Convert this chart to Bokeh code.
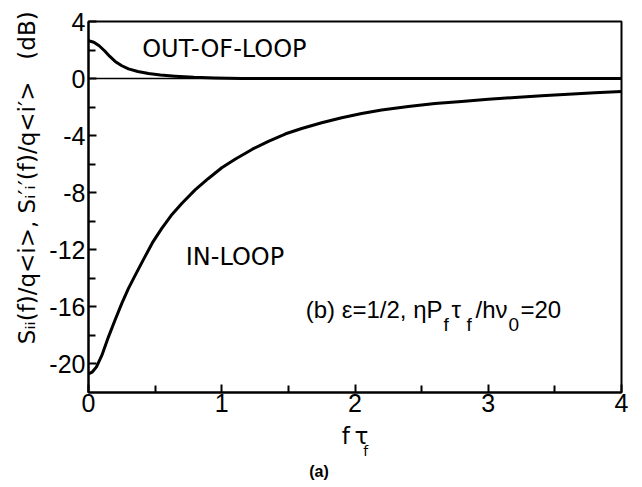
import math
from bokeh.plotting import figure
from bokeh.models import Range1d, FixedTicker, Span, Label, LinearAxis
from bokeh.embed import file_html
from bokeh.resources import INLINE

# ---- data ----
x_in = [0.00, 0.03, 0.06, 0.10, 0.15, 0.20, 0.25, 0.30, 0.355, 0.42, 0.48, 0.55,
        0.62, 0.70, 0.80, 0.90, 1.00, 1.10, 1.23, 1.35, 1.48, 1.60, 1.75, 1.90,
        2.05, 2.20, 2.40, 2.60, 2.80, 3.00, 3.20, 3.40, 3.60, 3.80, 4.00]
y_in = [-20.7, -20.55, -20.2, -19.4, -18.1, -16.9, -15.75, -14.7, -13.7, -12.55, -11.5, -10.5,
        -9.6, -8.75, -7.8, -7.0, -6.25, -5.65, -4.95, -4.4, -3.87, -3.5, -3.1, -2.75,
        -2.45, -2.2, -1.95, -1.75, -1.6, -1.45, -1.33, -1.2, -1.1, -1.0, -0.9]

x_out = [0.00, 0.04, 0.08, 0.12, 0.16, 0.20, 0.25, 0.30, 0.37, 0.45, 0.54, 0.65,
         0.79, 0.95, 1.15, 1.40, 4.00]
y_out = [2.65, 2.55, 2.3, 1.95, 1.55, 1.2, 0.9, 0.68, 0.5, 0.35, 0.25, 0.17,
         0.09, 0.04, 0.01, 0.0, 0.0]

x_ticks = [0, 1, 2, 3, 4]
x_minor = [0.5, 1.5, 2.5, 3.5]
y_ticks = [4, 0, -4, -8, -12, -16, -20]
y_minor = [2, -2, -6, -10, -14, -18]
y_tick_text = {t: str(t) for t in y_ticks}   # plain hyphen minus signs

p = figure(frame_width=533, frame_height=371,
           min_border_left=88, min_border_right=13,
           min_border_top=21, min_border_bottom=93,
           x_range=Range1d(0, 4), y_range=Range1d(-22, 4),
           output_backend="svg", toolbar_location=None)
p.background_fill_color = "white"
p.border_fill_color = "white"
p.outline_line_color = "black"
p.outline_line_width = 2
p.grid.visible = False

for ax, tk, mn in ((p.xaxis[0], x_ticks, x_minor), (p.yaxis[0], y_ticks, y_minor)):
    ax.ticker = FixedTicker(ticks=tk, minor_ticks=mn)
    ax.axis_line_color = "black"
    ax.axis_line_width = 2
    ax.major_tick_in = 8
    ax.major_tick_out = 0
    ax.minor_tick_in = 7
    ax.minor_tick_out = 0
    ax.major_tick_line_width = 2
    ax.minor_tick_line_width = 2
    ax.major_label_text_font = "Liberation Sans"
    ax.major_label_text_font_size = "25px"
    ax.major_label_text_color = "black"
    ax.axis_label_text_font = "DejaVu Sans"
    ax.axis_label_text_font_style = "normal"
    ax.axis_label_text_color = "black"
p.yaxis[0].major_label_overrides = y_tick_text
p.yaxis[0].major_label_standoff = 3
p.xaxis[0].major_label_standoff = 1

# y-axis title
p.yaxis[0].axis_label = ("\u00a0" * 8 + "S\u1d62\u1d62(f)/q<i>, S\u1d62\u2032\u1d62\u2032(f)/q<i\u2032>"
                         + "\u00a0\u00a0\u00a0(dB)")
p.yaxis[0].axis_label_text_font_size = "23px"
p.yaxis[0].axis_label_standoff = 6

# x-axis title: f tau, subscript f, then "(a)"
p.xaxis[0].axis_label = "f\u2009\u03c4"
p.xaxis[0].axis_label_text_font_size = "23px"
p.xaxis[0].axis_label_standoff = 8


def text_axis(pos, text, size, standoff, font="DejaVu Sans", style="normal"):
    ax = LinearAxis(ticker=FixedTicker(ticks=[pos]), major_label_overrides={pos: text})
    ax.axis_line_color = None
    ax.major_tick_line_color = None
    ax.minor_tick_line_color = None
    ax.major_tick_in = 0
    ax.major_tick_out = 0
    ax.major_label_text_font = font
    ax.major_label_text_font_size = size
    ax.major_label_text_font_style = style
    ax.major_label_text_color = "black"
    ax.major_label_standoff = standoff
    p.add_layout(ax, "below")


text_axis(2.08, "f", "14px", -9)
text_axis(1.73, "(a)", "16px", 1, font="Liberation Sans", style="bold")

p.add_layout(Span(location=0, dimension="width", line_color="black", line_width=1.5))

p.line(x_in, y_in, line_color="black", line_width=3, line_join="round", line_cap="round")
p.line(x_out, y_out, line_color="black", line_width=3, line_join="round", line_cap="round")


def lab(x, y, text, size, font="DejaVu Sans", align="left"):
    p.add_layout(Label(x=x, y=y, text=text, text_font=font, text_font_size=size,
                       text_align=align, text_baseline="middle",
                       text_color="black"))


# curve labels
lab(0.403, 2.08, "OUT-OF-LOOP", "24px")
lab(0.730, -12.52, "IN-LOOP", "24px")

# parameter annotation
F = "Liberation Sans"
MAIN, SUB = -16.16, -17.25
lab(2.657, MAIN, "(b) \u03b5=1/2, \u03b7P", "24px", F, align="right")
lab(2.664, SUB, "f", "19px", F)
lab(2.724, MAIN, "\u03c4", "24px", F)
lab(2.837, SUB, "f", "19px", F)
lab(2.904, MAIN, "/h\u03bd", "24px", F)
lab(3.152, SUB, "0", "19px", F)
lab(3.242, MAIN, "=20", "24px", F)

open("out.html", "w").write(file_html(p, INLINE))
